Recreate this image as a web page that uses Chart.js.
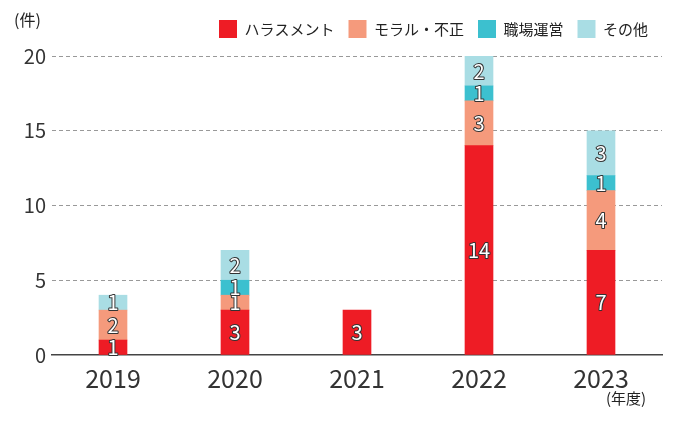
<!DOCTYPE html>
<html><head><meta charset="utf-8">
<script src="https://cdn.jsdelivr.net/npm/chart.js@4/dist/chart.umd.min.js"></script>
<style>body{margin:0;background:#fff}</style>
</head><body>
<canvas id="c" width="678" height="423"></canvas>
<script>
const years = ['2019','2020','2021','2022','2023'];
const harassment = [1, 3, 3, 14, 7];
const moral = [2, 1, null, 3, 4];
const workplace = [null, 1, null, 1, 1];
const other = [1, 2, null, 2, 3];
const seriesNames = ['ハラスメント','モラル・不正','職場運営','その他'];
const seriesColors = ['#ee1c25','#f59a7c','#3cc0cf','#a9dde4'];
const yTicks = [0, 5, 10, 15, 20];

const FONT = '"Noto Sans CJK JP", "Noto Sans", sans-serif';

const barLabels = {
  id: 'barLabels',
  afterDatasetsDraw(chart) {
    const ctx = chart.ctx;
    ctx.save();
    ctx.font = '20px ' + FONT;
    ctx.textAlign = 'center';
    ctx.textBaseline = 'middle';
    ctx.lineJoin = 'round';
    chart.data.datasets.forEach((ds, i) => {
      chart.getDatasetMeta(i).data.forEach((bar, j) => {
        const v = ds.data[j];
        if (!v) return;
        const y = (bar.y + bar.base) / 2;
        ctx.lineWidth = 2;
        ctx.strokeStyle = '#333';
        ctx.strokeText(v, bar.x, y);
        ctx.fillStyle = '#fff';
        ctx.fillText(v, bar.x, y);
      });
    });
    ctx.fillStyle = '#222';
    ctx.font = '16px ' + FONT;
    ctx.textAlign = 'left';
    ctx.fillText('(件)', 14, 20);
    ctx.font = '15px ' + FONT;
    ctx.fillText('(年度)', 606, 398);
    ctx.restore();
  }
};

new Chart(document.getElementById('c'), {
  type: 'bar',
  data: {
    labels: years,
    datasets: [harassment, moral, workplace, other].map((d, i) => ({
      label: seriesNames[i],
      data: d,
      backgroundColor: seriesColors[i],
      barThickness: 28,
    })),
  },
  options: {
    responsive: false,
    animation: false,
    layout: { padding: { left: 12, right: 16, top: 6, bottom: 30 } },
    plugins: {
      legend: {
        position: 'top',
        align: 'end',
        labels: {
          boxWidth: 18, boxHeight: 18, padding: 14,
          color: '#222', font: { family: FONT, size: 15 },
        },
      },
      tooltip: { enabled: false },
    },
    scales: {
      x: {
        stacked: true,
        grid: { display: false },
        border: { color: '#444', width: 1.5 },
        ticks: { color: '#333', font: { family: FONT, size: 25 }, padding: 0 },
      },
      y: {
        stacked: true,
        min: 0, max: 20,
        afterBuildTicks: s => { s.ticks = yTicks.map(v => ({ value: v })); },
        afterFit: s => { s.width = 40; },
        border: { display: false, dash: [4, 3] },
        grid: {
          color: ctx => ctx.tick.value === 0 ? 'rgba(0,0,0,0)' : '#999',
          drawTicks: false,
        },
        ticks: { color: '#333', font: { family: FONT, size: 20 }, padding: 6 },
      },
    },
  },
  plugins: [barLabels, {
    id: 'legendGap',
    beforeInit(chart) {
      const fit = chart.legend.fit;
      chart.legend.fit = function () { fit.bind(chart.legend)(); this.height += 8; };
    },
  }],
});
</script>
</body></html>
